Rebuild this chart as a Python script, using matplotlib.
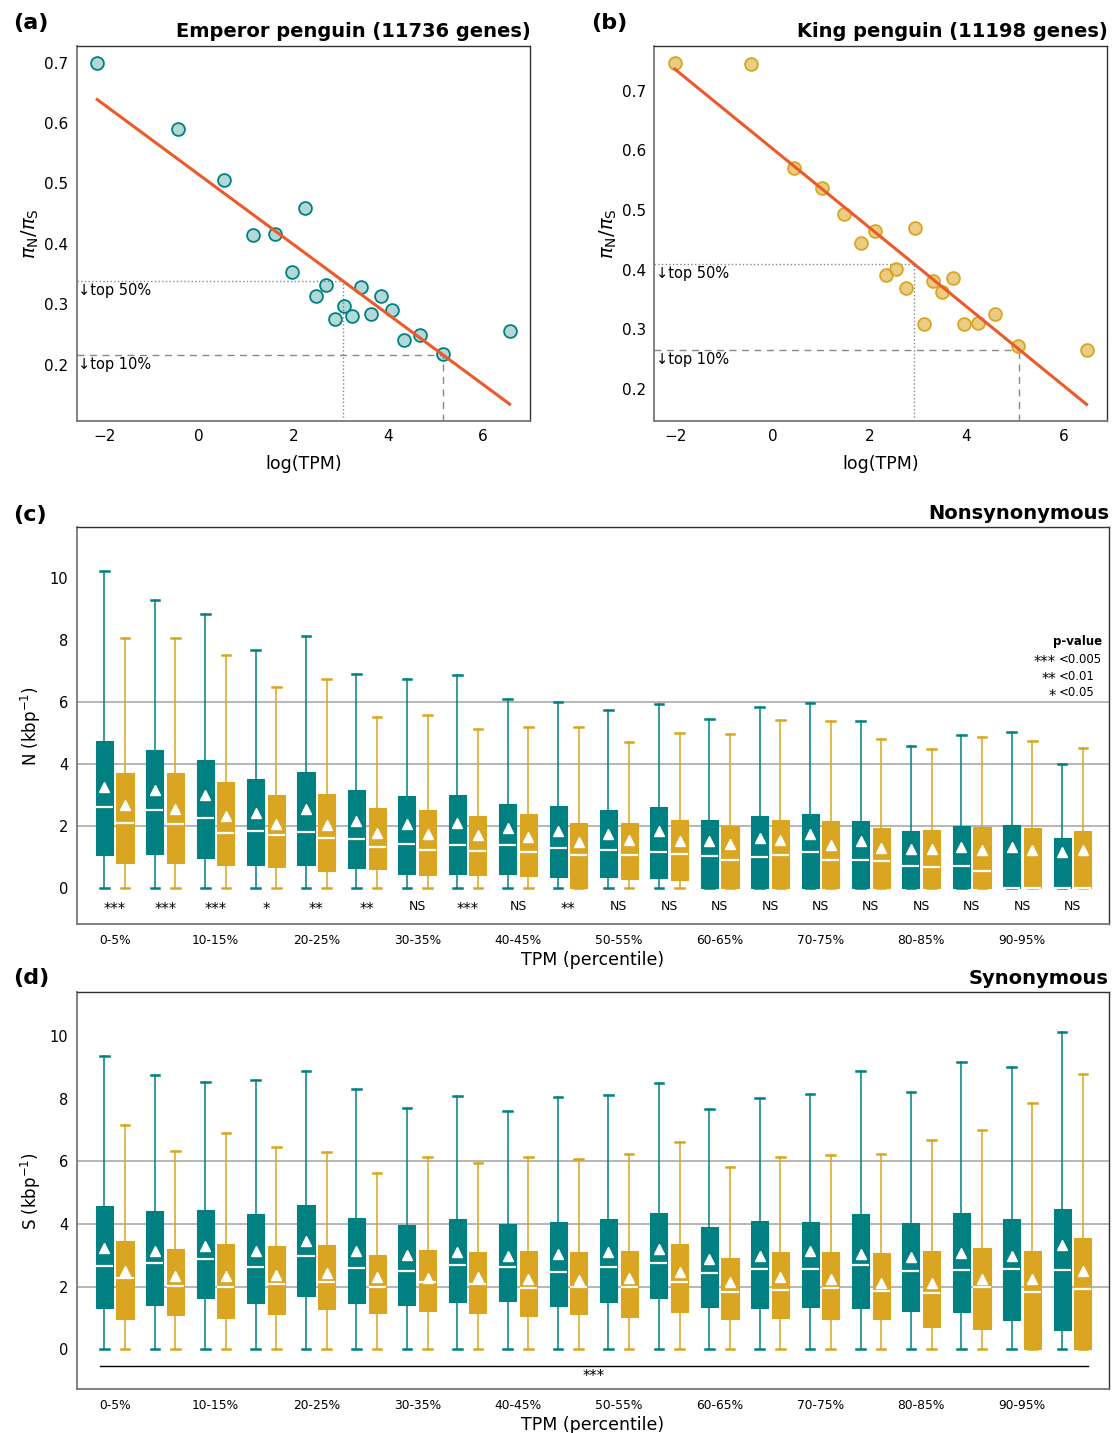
import numpy as np
import matplotlib
matplotlib.use("Agg")
import matplotlib.pyplot as plt
from matplotlib.colors import to_rgba

# Farben
teal = '#008080'
gold = '#DAA520'
fit_color = '#EB5A28'

# (a) Kaiserpinguin: log(TPM) je 5%-Klasse und piN/piS
a_log_tpm = [-2.15, -0.45, 0.53, 1.15, 1.61, 2.23, 1.97, 2.68, 2.47, 2.88,
             3.06, 3.24, 3.43, 3.63, 3.84, 4.08, 4.34, 4.67, 5.15, 6.56]
a_ratio = [0.700, 0.590, 0.506, 0.414, 0.417, 0.459, 0.354, 0.331, 0.313, 0.276,
           0.297, 0.281, 0.329, 0.283, 0.313, 0.291, 0.240, 0.249, 0.217, 0.256]
a_slope, a_intercept = -0.0579, 0.5144
a_top50, a_top10 = 3.04, 5.15

# (b) Königspinguin
b_log_tpm = [-2.02, -0.44, 0.45, 1.03, 1.47, 1.82, 2.11, 2.94, 2.35, 2.54,
             2.75, 3.13, 3.32, 3.50, 3.73, 3.96, 4.23, 4.58, 5.07, 6.48]
b_ratio = [0.747, 0.746, 0.571, 0.537, 0.493, 0.445, 0.464, 0.470, 0.390, 0.401,
           0.369, 0.309, 0.380, 0.363, 0.385, 0.309, 0.310, 0.326, 0.272, 0.265]
b_slope, b_intercept = -0.0663, 0.603
b_top50, b_top10 = 2.91, 5.09

# Perzentil-Klassen
percentiles = ['0-5%', '5-10%', '10-15%', '15-20%', '20-25%', '25-30%', '30-35%',
               '35-40%', '40-45%', '45-50%', '50-55%', '55-60%', '60-65%', '65-70%',
               '70-75%', '75-80%', '80-85%', '85-90%', '90-95%', '95-100%']

# (c) Nonsynonymous, Kaiserpinguin
n_emp_whishi = [10.24, 9.29, 8.86, 7.69, 8.14, 6.91, 6.76, 6.88, 6.11, 6.03,
                5.74, 5.95, 5.45, 5.85, 5.98, 5.39, 4.61, 4.95, 5.06, 4.01]
n_emp_q3 = [4.75, 4.48, 4.13, 3.52, 3.74, 3.19, 2.99, 3.02, 2.71, 2.66,
            2.52, 2.61, 2.19, 2.33, 2.40, 2.16, 1.84, 2.00, 2.04, 1.61]
n_emp_mean = [3.26, 3.19, 3.01, 2.44, 2.55, 2.17, 2.09, 2.12, 1.94, 1.84,
              1.77, 1.85, 1.53, 1.63, 1.77, 1.54, 1.26, 1.35, 1.33, 1.18]
n_emp_med = [2.62, 2.53, 2.26, 1.85, 1.83, 1.58, 1.44, 1.39, 1.39, 1.31,
             1.24, 1.18, 1.06, 1.00, 1.17, 0.90, 0.72, 0.72, 0.00, 0.00]
n_emp_q1 = [1.08, 1.11, 0.98, 0.74, 0.76, 0.65, 0.47, 0.47, 0.46, 0.38,
            0.37, 0.35, 0.00, 0.00, 0.00, 0.00, 0.00, 0.00, 0.00, 0.00]
n_emp_whislo = [0.0] * 20

# (c) Nonsynonymous, Königspinguin
n_king_whishi = [8.09, 8.09, 7.52, 6.49, 6.76, 5.53, 5.59, 5.15, 5.20, 5.22,
                 4.73, 5.00, 4.99, 5.44, 5.41, 4.82, 4.51, 4.90, 4.77, 4.54]
n_king_q3 = [3.71, 3.72, 3.44, 3.00, 3.05, 2.58, 2.52, 2.33, 2.39, 2.12,
             2.12, 2.20, 2.01, 2.19, 2.17, 1.94, 1.87, 1.98, 1.95, 1.84]
n_king_mean = [2.69, 2.57, 2.34, 2.09, 2.04, 1.80, 1.76, 1.73, 1.65, 1.51,
               1.56, 1.54, 1.42, 1.57, 1.41, 1.31, 1.28, 1.25, 1.24, 1.24]
n_king_med = [2.10, 2.08, 1.80, 1.73, 1.61, 1.34, 1.25, 1.22, 1.16, 1.08,
              1.08, 1.11, 0.91, 1.08, 0.92, 0.88, 0.69, 0.56, 0.00, 0.00]
n_king_q1 = [0.81, 0.83, 0.75, 0.68, 0.55, 0.61, 0.44, 0.44, 0.40, 0.00,
             0.31, 0.28, 0.00, 0.00, 0.00, 0.00, 0.00, 0.00, 0.00, 0.00]
n_king_whislo = [0.0] * 20

n_sig = ['***', '***', '***', '*', '**', '**', 'NS', '***', 'NS', '**',
         'NS', 'NS', 'NS', 'NS', 'NS', 'NS', 'NS', 'NS', 'NS', 'NS']

# (d) Synonymous, Kaiserpinguin
s_emp_whishi = [9.36, 8.76, 8.54, 8.59, 8.89, 8.29, 7.69, 8.07, 7.61, 8.06,
                8.12, 8.49, 7.67, 8.03, 8.14, 8.87, 8.21, 9.17, 9.01, 10.13]
s_emp_q3 = [4.56, 4.40, 4.43, 4.32, 4.60, 4.19, 3.98, 4.17, 4.00, 4.05,
            4.17, 4.35, 3.91, 4.09, 4.07, 4.32, 4.02, 4.36, 4.16, 4.46]
s_emp_mean = [3.22, 3.13, 3.30, 3.12, 3.44, 3.15, 3.01, 3.11, 2.99, 3.03,
              3.09, 3.20, 2.88, 2.96, 3.12, 3.03, 2.93, 3.07, 2.98, 3.33]
s_emp_med = [2.65, 2.74, 2.88, 2.61, 2.99, 2.60, 2.51, 2.70, 2.62, 2.48,
             2.61, 2.74, 2.43, 2.57, 2.57, 2.68, 2.50, 2.52, 2.55, 2.54]
s_emp_q1 = [1.33, 1.40, 1.63, 1.49, 1.70, 1.47, 1.41, 1.51, 1.54, 1.38,
            1.52, 1.62, 1.36, 1.31, 1.36, 1.30, 1.22, 1.18, 0.94, 0.61]
s_emp_whislo = [0.0] * 20

# (d) Synonymous, Königspinguin
s_king_whishi = [7.16, 6.34, 6.91, 6.46, 6.28, 5.64, 6.12, 5.94, 6.14, 6.07,
                 6.24, 6.62, 5.83, 6.14, 6.21, 6.24, 6.68, 6.99, 7.86, 8.80]
s_king_q3 = [3.46, 3.19, 3.36, 3.29, 3.32, 3.00, 3.18, 3.10, 3.13, 3.10,
             3.12, 3.36, 2.90, 3.10, 3.11, 3.06, 3.12, 3.24, 3.14, 3.55]
s_king_mean = [2.51, 2.35, 2.34, 2.36, 2.44, 2.29, 2.27, 2.32, 2.23, 2.21,
               2.26, 2.45, 2.14, 2.30, 2.23, 2.12, 2.11, 2.23, 2.23, 2.50]
s_king_med = [2.26, 2.02, 1.99, 2.09, 2.15, 1.98, 2.15, 2.07, 1.95, 2.00,
              1.99, 2.16, 1.83, 1.89, 1.96, 1.87, 1.81, 1.97, 1.83, 1.91]
s_king_q1 = [0.98, 1.09, 0.99, 1.13, 1.28, 1.15, 1.22, 1.17, 1.06, 1.12,
             1.03, 1.20, 0.95, 1.01, 0.96, 0.96, 0.72, 0.65, 0.00, 0.00]
s_king_whislo = [0.0] * 20

s_sig = '***'
grid_levels = [2, 4, 6]

plt.rcParams['font.family'] = ['DejaVu Sans']

fig = plt.figure(figsize=(11.12, 14.33), dpi=100)
ax_a = fig.add_axes([0.0691, 0.7064, 0.4079, 0.2617])
ax_b = fig.add_axes([0.5884, 0.7064, 0.4075, 0.2617])
ax_c = fig.add_axes([0.0690, 0.3552, 0.9281, 0.2768])
ax_d = fig.add_axes([0.0690, 0.0307, 0.9281, 0.2768])


def style_spines(ax):
    for side in ['left', 'bottom']:
        ax.spines[side].set_color('#777777')
        ax.spines[side].set_linewidth(1.3)
    for side in ['top', 'right']:
        ax.spines[side].set_color('#333333')
        ax.spines[side].set_linewidth(1.0)
    ax.tick_params(length=0, pad=6)


def scatter_panel(ax, x, y, slope, intercept, top50, top10, color, alpha,
                  xlim, ylim, title, label):
    x = np.asarray(x)
    y = np.asarray(y)
    ax.set_xlim(*xlim)
    ax.set_ylim(*ylim)
    ax.scatter(x, y, s=85, facecolor=to_rgba(color, alpha), edgecolor=color,
               linewidth=1.3, zorder=3)
    xs = np.array([x.min(), x.max()])
    ax.plot(xs, intercept + slope * xs, color=fit_color, lw=2.2, zorder=4)

    # Schwellen top 50% / top 10%
    for thr, ls, txt in [(top50, ':', '↓top 50%'), (top10, (0, (5, 4)), '↓top 10%')]:
        yt = intercept + slope * thr
        ax.plot([xlim[0], thr], [yt, yt], color='#888888', lw=1.0, ls=ls, zorder=2)
        ax.plot([thr, thr], [ylim[0], yt], color='#888888', lw=1.0, ls=ls, zorder=2)
        ax.text(xlim[0] + 0.03, yt - 0.004, txt, fontsize=10.5, va='top', ha='left')

    ax.set_xticks([-2, 0, 2, 4, 6])
    ax.set_yticks([0.2, 0.3, 0.4, 0.5, 0.6, 0.7])
    ax.tick_params(labelsize=11)
    ax.set_xlabel('log(TPM)', fontsize=12.5, labelpad=8)
    ax.set_ylabel(r'$\pi_\mathrm{N}/\pi_\mathrm{S}$', fontsize=14, labelpad=2)
    ax.set_title(title, loc='right', fontsize=14, fontweight='bold', pad=6)
    ax.text(-0.14, 1.06, label, transform=ax.transAxes, fontsize=16,
            fontweight='bold', ha='left', va='center')
    style_spines(ax)


scatter_panel(ax_a, a_log_tpm, a_ratio, a_slope, a_intercept, a_top50, a_top10,
              teal, 0.3, (-2.58, 7.0), (0.107, 0.728),
              'Emperor penguin (11736 genes)', '(a)')
scatter_panel(ax_b, b_log_tpm, b_ratio, b_slope, b_intercept, b_top50, b_top10,
              gold, 0.55, (-2.44, 6.91), (0.146, 0.776),
              'King penguin (11198 genes)', '(b)')


def make_stats(whislo, q1, med, q3, whishi, mean):
    stats = []
    for i in range(len(q1)):
        stats.append(dict(whislo=whislo[i], q1=q1[i], med=med[i], q3=q3[i],
                          whishi=whishi[i], mean=mean[i], fliers=[]))
    return stats


def box_panel(ax, emp, king, ylim, ylabel, title, label, label_y):
    pos = np.arange(len(percentiles))
    for stats, offset, color in [(emp, -0.205, teal), (king, 0.205, gold)]:
        ax.bxp(stats, positions=pos + offset, widths=0.34, patch_artist=True,
               showmeans=True, showfliers=False,
               boxprops=dict(facecolor=color, edgecolor=color, linewidth=0.8),
               whiskerprops=dict(color=color, linewidth=1.1),
               capprops=dict(color=color, linewidth=1.8),
               medianprops=dict(color='white', linewidth=1.6),
               meanprops=dict(marker='^', markerfacecolor='white',
                              markeredgecolor='white', markersize=6.5),
               zorder=3)
    for g in grid_levels:
        ax.axhline(g, color='#aaaaaa', lw=1.2, zorder=0)
    ax.set_xlim(-0.754, 19.72)
    ax.set_ylim(*ylim)
    ax.set_yticks([0, 2, 4, 6, 8, 10])
    ax.set_yticklabels(['0', '2', '4', '6', '8', '10'])
    ax.set_xticks(pos[::2])
    ax.set_xticklabels(percentiles[::2])
    ax.tick_params(axis='y', labelsize=10.5)
    ax.tick_params(axis='x', labelsize=8.8)
    style_spines(ax)
    ax.tick_params(axis='x', pad=7)
    ax.set_xlabel('TPM (percentile)', fontsize=12.5, labelpad=3)
    ax.set_ylabel(ylabel, fontsize=12, labelpad=5)
    ax.set_title(title, loc='right', fontsize=14, fontweight='bold', pad=6)
    ax.text(-0.062, label_y, label, transform=ax.transAxes, fontsize=16,
            fontweight='bold', ha='left', va='center')


stats_n_emp = make_stats(n_emp_whislo, n_emp_q1, n_emp_med, n_emp_q3, n_emp_whishi, n_emp_mean)
stats_n_king = make_stats(n_king_whislo, n_king_q1, n_king_med, n_king_q3, n_king_whishi, n_king_mean)
stats_s_emp = make_stats(s_emp_whislo, s_emp_q1, s_emp_med, s_emp_q3, s_emp_whishi, s_emp_mean)
stats_s_king = make_stats(s_king_whislo, s_king_q1, s_king_med, s_king_q3, s_king_whishi, s_king_mean)

box_panel(ax_c, stats_n_emp, stats_n_king, (-1.15, 11.65),
          r'N (kbp$^{-1}$)', 'Nonsynonymous', '(c)', 1.03)
box_panel(ax_d, stats_s_emp, stats_s_king, (-1.27, 11.39),
          r'S (kbp$^{-1}$)', 'Synonymous', '(d)', 1.037)

# Signifikanz je Klasse (c); Sternchen etwas tiefer setzen
for i, sig in enumerate(n_sig):
    if sig == 'NS':
        ax_c.text(i, -0.57, sig, ha='center', va='center', fontsize=9)
    else:
        ax_c.text(i, -0.69, sig, ha='center', va='center', fontsize=10.5)

# p-Wert Legende
ax_c.text(0.9936, 0.7116, 'p-value', transform=ax_c.transAxes, ha='right',
          va='center', fontsize=8.5, fontweight='bold')
for yy, stars, val in [(0.668, '***', '<0.005'), (0.625, '**', '<0.01'), (0.583, '*', '<0.05')]:
    ax_c.text(0.9487, yy - 0.009, stars, transform=ax_c.transAxes,
              ha='right', va='center', fontsize=10.5)
    ax_c.text(0.9518, yy, val, transform=ax_c.transAxes, ha='left',
              va='center', fontsize=8.5)

# Gesamtvergleich (d)
ax_d.plot([-0.3, 19.3], [-0.54, -0.54], color='black', lw=1.0)
ax_d.text(9.5, -0.86, s_sig, ha='center', va='center', fontsize=10.5)

fig.savefig('out.png', dpi=100)
